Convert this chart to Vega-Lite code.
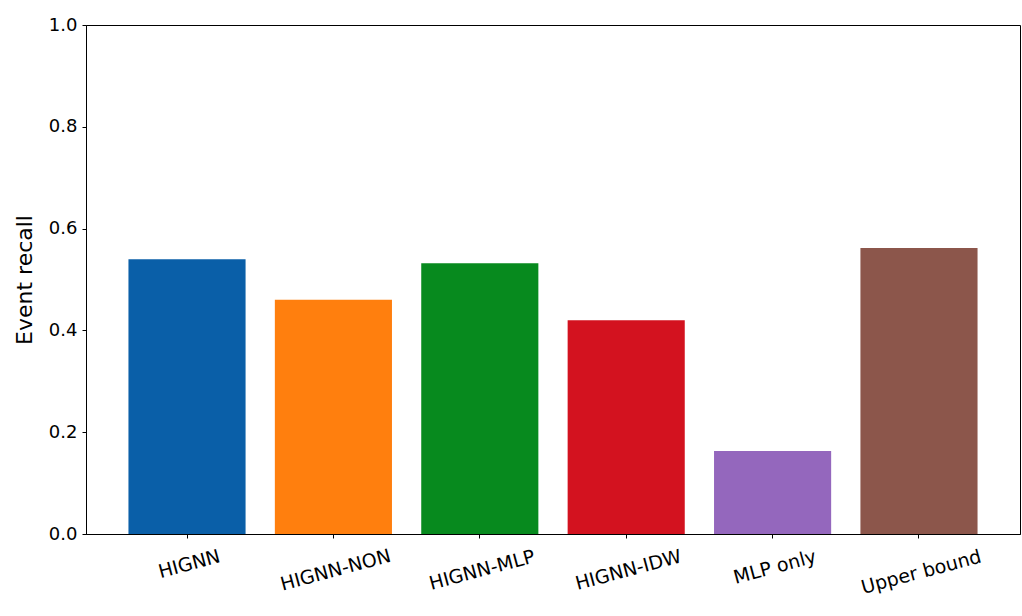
{
  "$schema": "https://vega.github.io/schema/vega-lite/v6.json",
  "autosize": {"type": "none"},
  "padding": {"left": 86, "top": 25, "right": 2, "bottom": 82},
  "width": 934,
  "height": 509,
  "background": "white",
  "config": {
    "font": "DejaVu Sans",
    "view": {"stroke": "black", "strokeWidth": 1},
    "axis": {
      "grid": false,
      "domainColor": "black",
      "tickColor": "black",
      "labelColor": "black",
      "titleColor": "black",
      "labelFont": "DejaVu Sans",
      "titleFont": "DejaVu Sans",
      "tickSize": 4
    }
  },
  "data": {
    "values": [
      {"method": "HIGNN", "recall": 0.540},
      {"method": "HIGNN-NON", "recall": 0.460},
      {"method": "HIGNN-MLP", "recall": 0.532},
      {"method": "HIGNN-IDW", "recall": 0.420},
      {"method": "MLP only", "recall": 0.163},
      {"method": "Upper bound", "recall": 0.562}
    ]
  },
  "mark": {"type": "bar"},
  "encoding": {
    "x": {
      "field": "method",
      "type": "nominal",
      "sort": null,
      "scale": {"paddingInner": 0.2, "paddingOuter": 0.29},
      "axis": {
        "title": null,
        "labelAngle": -15,
        "labelAlign": "center",
        "labelBaseline": "top",
        "labelFontSize": 19,
        "labelPadding": {
          "condition": [
            {"test": "datum.value === 'HIGNN'", "value": 17},
            {"test": "datum.value === 'MLP only'", "value": 20},
            {"test": "datum.value === 'Upper bound'", "value": 25}
          ],
          "value": 23
        }
      }
    },
    "y": {
      "field": "recall",
      "type": "quantitative",
      "scale": {"domain": [0, 1], "nice": false},
      "axis": {
        "title": "Event recall",
        "values": [0, 0.2, 0.4, 0.6, 0.8, 1.0],
        "format": ".1f",
        "labelFontSize": 18,
        "titleFontSize": 22,
        "titleFontWeight": "normal",
        "labelPadding": 5,
        "titlePadding": 12
      }
    },
    "color": {
      "field": "method",
      "type": "nominal",
      "sort": null,
      "scale": {
        "domain": ["HIGNN", "HIGNN-NON", "HIGNN-MLP", "HIGNN-IDW", "MLP only", "Upper bound"],
        "range": ["#0a5fa8", "#ff7f0e", "#078a1e", "#d3121f", "#9467bd", "#8c564b"]
      },
      "legend": null
    }
  }
}
